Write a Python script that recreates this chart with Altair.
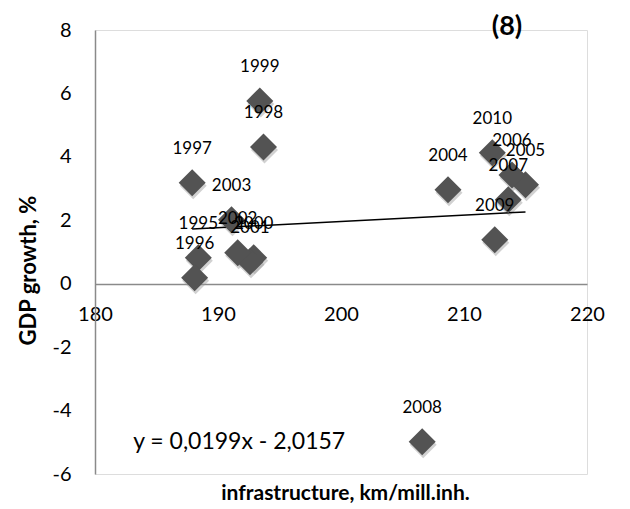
import altair as alt
import pandas as pd

# Data
years = ["1995", "1996", "1997", "1998", "1999", "2000", "2001", "2002",
         "2003", "2004", "2005", "2006", "2007", "2008", "2009", "2010"]
infrastructure = [188.4, 188.1, 187.9, 193.7, 193.4, 192.9, 192.6, 191.6,
                  191.1, 208.7, 215.0, 213.9, 213.6, 206.6, 212.5, 212.3]
gdp_growth = [0.82, 0.19, 3.18, 4.31, 5.76, 0.82, 0.69, 0.98,
              2.02, 2.96, 3.12, 3.43, 2.65, -4.98, 1.39, 4.13]

x_ticks = [180, 190, 200, 210, 220]
y_ticks = [-6, -4, -2, 0, 2, 4, 6, 8]

# Trendline as printed on the chart: y = 0,0199x - 2,0157
slope = 0.0199
intercept = -2.0157
equation_text = "y = 0,0199x - 2,0157"
equation_pos = {"x": [183.1], "y": [-4.98]}
panel_label = ["(8)"]

FONT = "Lato"

df = pd.DataFrame({"year": years, "x": infrastructure, "y": gdp_growth})
trend = pd.DataFrame({"x": [min(infrastructure), max(infrastructure)]})
trend["y"] = slope * trend["x"] + intercept
eq = pd.DataFrame({"x": equation_pos["x"], "y": equation_pos["y"], "t": [equation_text]})
panel = pd.DataFrame({"t": panel_label})

xscale = alt.Scale(domain=[180, 220], nice=False, zero=False)
yscale = alt.Scale(domain=[-6, 8], nice=False, zero=False)

xaxis = alt.Axis(values=x_ticks, grid=False, ticks=False, domainColor="#8a8a8a",
                 domainWidth=1.5, labelFont=FONT, labelFontSize=20, labelColor="#000000",
                 labelPadding=20, offset=-190, title="infrastructure, km/mill.inh.",
                 labelExpr="toString(datum.value)", labelFlush=False, labelOverlap=False,
                 titleFont=FONT, titleFontSize=21, titleFontWeight="bold",
                 titleColor="#000000", titleX=250, titleY=209,
                 titleBaseline="middle", titleAlign="center")
yaxis = alt.Axis(values=y_ticks, grid=False, ticks=False, domainColor="#8a8a8a",
                 domainWidth=1.5, labelFont=FONT, labelFontSize=20, labelColor="#000000",
                 labelPadding=24, title="GDP growth, %", titleFont=FONT,
                 labelExpr="toString(datum.value)", labelFlush=False, labelOverlap=False,
                 titleFontSize=22, titleFontWeight="bold", titleColor="#000000",
                 titleX=-67, titleY=240, titleBaseline="middle", titleAlign="center")

base = alt.Chart(df)

shadow = base.mark_point(shape="diamond", filled=True, size=729, color="#9a9a9a",
                         opacity=0.45, xOffset=1, yOffset=3).encode(
    x=alt.X("x:Q", scale=xscale, axis=xaxis),
    y=alt.Y("y:Q", scale=yscale, axis=yaxis),
)
points = base.mark_point(shape="diamond", filled=True, size=729, color="#535353",
                         opacity=1).encode(x="x:Q", y="y:Q")
labels = base.mark_text(dy=-34, font=FONT, fontSize=17, color="#000000").encode(
    x="x:Q", y="y:Q", text="year:N")

trendline = alt.Chart(trend).mark_line(color="#000000", strokeWidth=1.5).encode(
    x="x:Q", y="y:Q")

equation = alt.Chart(eq).mark_text(align="left", baseline="middle", font=FONT,
                                   fontSize=23, color="#000000").encode(
    x="x:Q", y="y:Q", text="t:N")

panel_text = alt.Chart(panel).mark_text(align="center", baseline="middle", font=FONT,
                                        fontSize=27, fontWeight="bold",
                                        color="#000000").encode(
    x=alt.value(412), y=alt.value(-3), text="t:N")

chart = alt.layer(shadow, trendline, points, labels, equation, panel_text).properties(
    width=492, height=444,
    autosize=alt.AutoSizeParams(type="none"),
    padding={"left": 87, "top": 22, "right": 35, "bottom": 30},
).configure_view(stroke=None).configure(background="#ffffff")

chart.save("out.html", embed_options={"renderer": "svg", "actions": False})
